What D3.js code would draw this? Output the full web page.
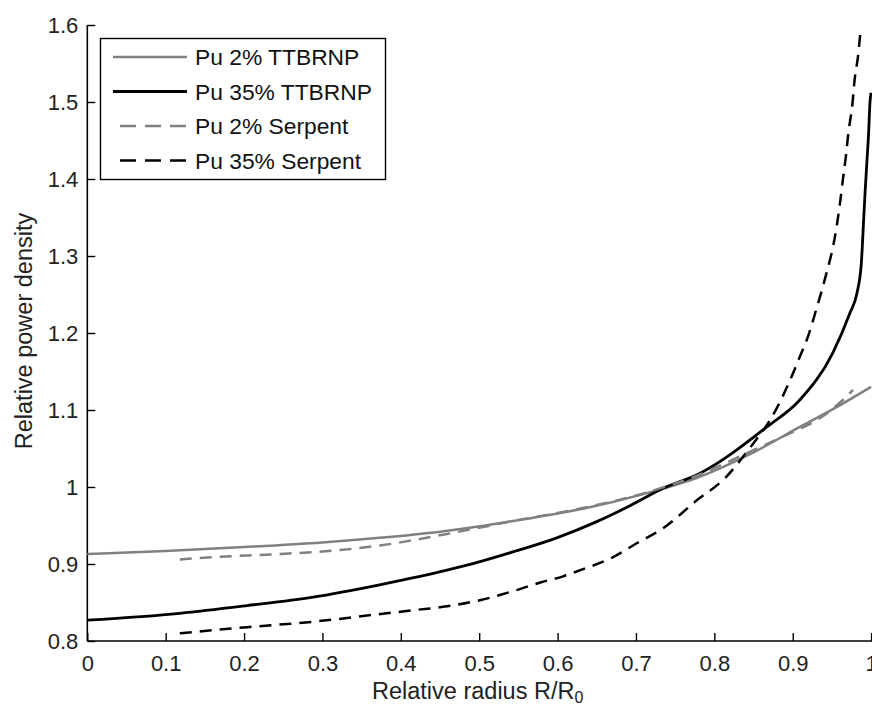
<!DOCTYPE html>
<html><head><meta charset="utf-8">
<script src="https://cdn.jsdelivr.net/npm/d3@7"></script>
<style>
html,body{margin:0;padding:0;background:#fff;}
svg{display:block;font-family:"Liberation Sans",Arial,sans-serif;}
</style></head>
<body><svg id="chart" width="872" height="708"></svg>
<script>
const xTicks = [0,0.1,0.2,0.3,0.4,0.5,0.6,0.7,0.8,0.9,1];
const xTickLabels = ["0","0.1","0.2","0.3","0.4","0.5","0.6","0.7","0.8","0.9","1"];
const yTicks = [0.8,0.9,1.0,1.1,1.2,1.3,1.4,1.5,1.6];
const yTickLabels = ["0.8","0.9","1","1.1","1.2","1.3","1.4","1.5","1.6"];

const seriesNames = ["Pu 2% TTBRNP","Pu 35% TTBRNP","Pu 2% Serpent","Pu 35% Serpent"];

const pu2TtbrnpX = [0,0.1,0.2,0.3,0.373,0.45,0.501,0.55,0.629,0.714,0.778,0.85,0.909,0.96,1.0];
const pu2TtbrnpY = [0.913,0.917,0.922,0.928,0.934,0.942,0.949,0.957,0.971,0.992,1.012,1.045,1.078,1.106,1.13];

const pu35TtbrnpX = [0,0.118,0.204,0.288,0.373,0.459,0.501,0.544,0.599,0.65,0.693,0.734,0.782,0.867,0.909,0.951,0.973,0.982,0.9875,0.9904,0.9923,0.9948,0.9967,0.9986,1.0];
const pu35TtbrnpY = [0.827,0.836,0.846,0.857,0.873,0.892,0.903,0.916,0.934,0.955,0.976,0.998,1.018,1.078,1.113,1.174,1.226,1.252,1.29,1.345,1.382,1.425,1.457,1.5,1.512];

const pu2SerpentX = [0.118,0.161,0.246,0.331,0.373,0.459,0.544,0.629,0.714,0.778,0.85,0.897,0.931,0.964,0.977];
const pu2SerpentY = [0.906,0.909,0.913,0.919,0.924,0.939,0.956,0.972,0.993,1.015,1.048,1.07,1.087,1.113,1.126];

const pu35SerpentX = [0.118,0.204,0.288,0.365,0.416,0.459,0.501,0.544,0.578,0.607,0.629,0.671,0.701,0.734,0.778,0.814,0.841,0.88,0.895,0.909,0.92,0.931,0.94,0.956,0.96,0.964,0.968,0.971,0.976,0.979,0.9835,0.986];
const pu35SerpentY = [0.810,0.818,0.825,0.834,0.840,0.845,0.853,0.865,0.876,0.884,0.892,0.909,0.927,0.946,0.983,1.012,1.045,1.103,1.135,1.169,1.197,1.234,1.266,1.338,1.366,1.399,1.431,1.46,1.496,1.529,1.561,1.587];

const svg = d3.select("#chart");
const x = d3.scaleLinear().domain([0,1]).range([87.3,871.1]);
const y = d3.scaleLinear().domain([0.8,1.6]).range([641,25]);

const styles = [
  {color:"#808080", width:2.5, dash:null},
  {color:"#000000", width:2.8, dash:null},
  {color:"#808080", width:2.5, dash:"12,8"},
  {color:"#000000", width:2.5, dash:"12,8"}
];
const xs = [pu2TtbrnpX, pu35TtbrnpX, pu2SerpentX, pu35SerpentX];
const ys = [pu2TtbrnpY, pu35TtbrnpY, pu2SerpentY, pu35SerpentY];

const line = d3.line().x(d=>x(d[0])).y(d=>y(d[1])).curve(d3.curveMonotoneX);

// axes
const fs = 22;
const gx = svg.append("g").attr("transform",`translate(0,641)`)
  .call(d3.axisBottom(x).tickValues(xTicks).tickFormat((d,i)=>xTickLabels[i]).tickSize(-8).tickPadding(14));
const gy = svg.append("g").attr("transform",`translate(87.3,0)`)
  .call(d3.axisLeft(y).tickValues(yTicks).tickFormat((d,i)=>yTickLabels[i]).tickSize(-8).tickPadding(9));
[gx,gy].forEach(g=>{
  g.select(".domain").attr("stroke","#000").attr("stroke-width",1.6);
  g.selectAll(".tick line").attr("stroke","#000").attr("stroke-width",1.4);
  g.selectAll(".tick text").attr("fill","#222").style("font-size",fs+"px").style("font-family","'Liberation Sans',Arial,sans-serif");
});
gx.select(".domain").attr("d","M87.3,0H872");
gy.select(".domain").attr("d","M0,25V641");

// series
xs.forEach((xa,i)=>{
  const data = xa.map((v,j)=>[v, ys[i][j]]);
  svg.append("path").datum(data).attr("d",line)
    .attr("fill","none").attr("stroke",styles[i].color)
    .attr("stroke-width",styles[i].width)
    .attr("stroke-dasharray",styles[i].dash);
});

// legend
const lg = svg.append("g");
lg.append("rect").attr("x",100.5).attr("y",38.5).attr("width",285).attr("height",141)
  .attr("fill","#fff").attr("stroke","#000").attr("stroke-width",1.4);
seriesNames.forEach((name,i)=>{
  const yy = 57 + i*34.5;
  lg.append("line").attr("x1",113).attr("x2",187).attr("y1",yy).attr("y2",yy)
    .attr("stroke",styles[i].color).attr("stroke-width",styles[i].width)
    .attr("stroke-dasharray",styles[i].dash ? "16,9" : null)
    .attr("stroke-dashoffset", styles[i].dash ? -7 : null);
  lg.append("text").attr("x",195).attr("y",yy+8).text(name)
    .attr("fill","#111").style("font-size","22.8px");
});

// axis labels
const xl = svg.append("text").attr("x",372).attr("y",699).attr("fill","#222").style("font-size","23.5px");
xl.append("tspan").text("Relative radius R/R");
xl.append("tspan").attr("dy",4).style("font-size","16px").text("0");

svg.append("text").attr("transform","translate(32,331) rotate(-90)")
  .attr("text-anchor","middle").attr("fill","#222").style("font-size","23.5px")
  .text("Relative power density");
</script></body></html>
